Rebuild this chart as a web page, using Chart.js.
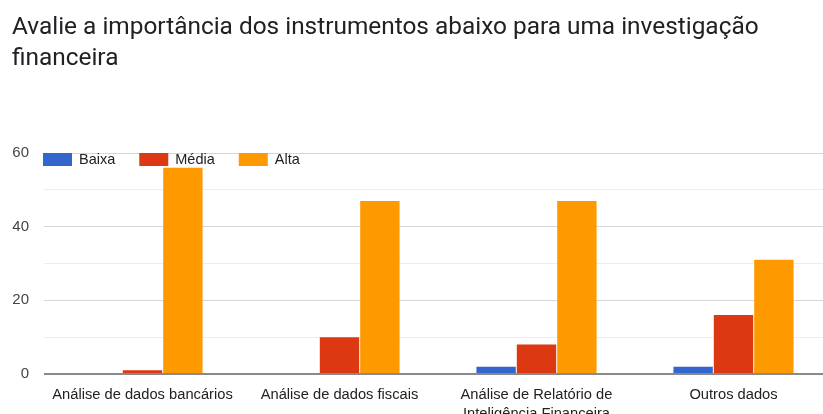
<!DOCTYPE html>
<html lang="pt">
<head>
<meta charset="utf-8">
<title>Instrumentos para investigação financeira</title>
<script src="https://cdn.jsdelivr.net/npm/chart.js@4.4.1/dist/chart.umd.min.js"></script>
<style>
  html, body { margin: 0; padding: 0; background: #fff; overflow: hidden; }
  #wrap { position: relative; width: 832px; height: 414px; }
</style>
</head>
<body>
<div id="wrap"><canvas id="chart"></canvas></div>
<script>
// Survey answers per instrument
const titleLines = ['Avalie a importância dos instrumentos abaixo para uma investigação', 'financeira'];
const categories = [
    'Análise de dados bancários',
    'Análise de dados fiscais',
    ['Análise de Relatório de', 'Inteligência Financeira'],
    'Outros dados'
];
const seriesNames = ['Baixa', 'Média', 'Alta'];
const baixa = [0, 0, 2, 2];
const media = [1, 10, 8, 16];
const alta = [56, 47, 47, 31];
const yTickLabels = [0, 20, 40, 60];
const seriesColors = ['#3366cc', '#dc3912', '#ff9900'];

const labelFont = '"Liberation Sans", Arial, sans-serif';

// Legend drawn inside the plot, top-left
const insideLegend = {
    id: 'insideLegend',
    afterDatasetsDraw(chart) {
        const ctx = chart.ctx;
        const top = chart.chartArea.top;
        let x = chart.chartArea.left - 1;
        ctx.save();
        ctx.font = '14.5px ' + labelFont;
        ctx.textBaseline = 'middle';
        chart.data.datasets.forEach(ds => {
            ctx.fillStyle = ds.backgroundColor;
            ctx.fillRect(x, top, 29, 13);
            ctx.fillStyle = '#222';
            ctx.fillText(ds.label, x + 36, top + 7);
            x += 36 + ctx.measureText(ds.label).width + 24;
        });
        ctx.restore();
    }
};

function createChart() {
    const ctx = document.getElementById('chart').getContext('2d');
    const values = [baixa, media, alta];
    new Chart(ctx, {
        type: 'bar',
        data: {
            labels: categories,
            datasets: seriesNames.map((name, i) => ({
                label: name,
                data: values[i],
                backgroundColor: seriesColors[i],
                borderWidth: 0,
                categoryPercentage: 0.615,
                barPercentage: 0.975
            }))
        },
        options: {
            responsive: true,
            maintainAspectRatio: false,
            animation: false,
            layout: { padding: { left: 12, right: 0, top: 0, bottom: 0 } },
            plugins: {
                legend: { display: false },
                tooltip: { enabled: false },
                title: {
                    display: true,
                    text: titleLines,
                    align: 'start',
                    color: '#202124',
                    font: { family: 'Roboto', size: 24.4, weight: 'normal', lineHeight: 1.25 },
                    padding: { top: 13, bottom: 79 }
                }
            },
            scales: {
                x: {
                    grid: { display: false, drawTicks: false },
                    border: { display: false },
                    ticks: {
                        autoSkip: false,
                        maxRotation: 0,
                        padding: 12,
                        color: '#222',
                        font: { family: labelFont, size: 14.7, lineHeight: 1.25 }
                    },
                    afterFit(scale) { scale.height = 40; }
                },
                y: {
                    min: 0,
                    max: 60,
                    border: { display: false },
                    grid: {
                        drawTicks: false,
                        color: c => c.tick.value === 0 ? '#8a8a8a' : (yTickLabels.includes(c.tick.value) ? '#d6d6d6' : '#ededed'),
                        lineWidth: c => c.tick.value === 0 ? 2 : 1
                    },
                    ticks: {
                        stepSize: 10,
                        padding: 15,
                        color: '#444',
                        font: { family: labelFont, size: 15 },
                        callback: v => yTickLabels.includes(v) ? v : ''
                    },
                    afterFit(scale) { scale.width = 32; }
                }
            }
        },
        plugins: [insideLegend]
    });
}

document.addEventListener('DOMContentLoaded', createChart);
</script>
</body>
</html>
